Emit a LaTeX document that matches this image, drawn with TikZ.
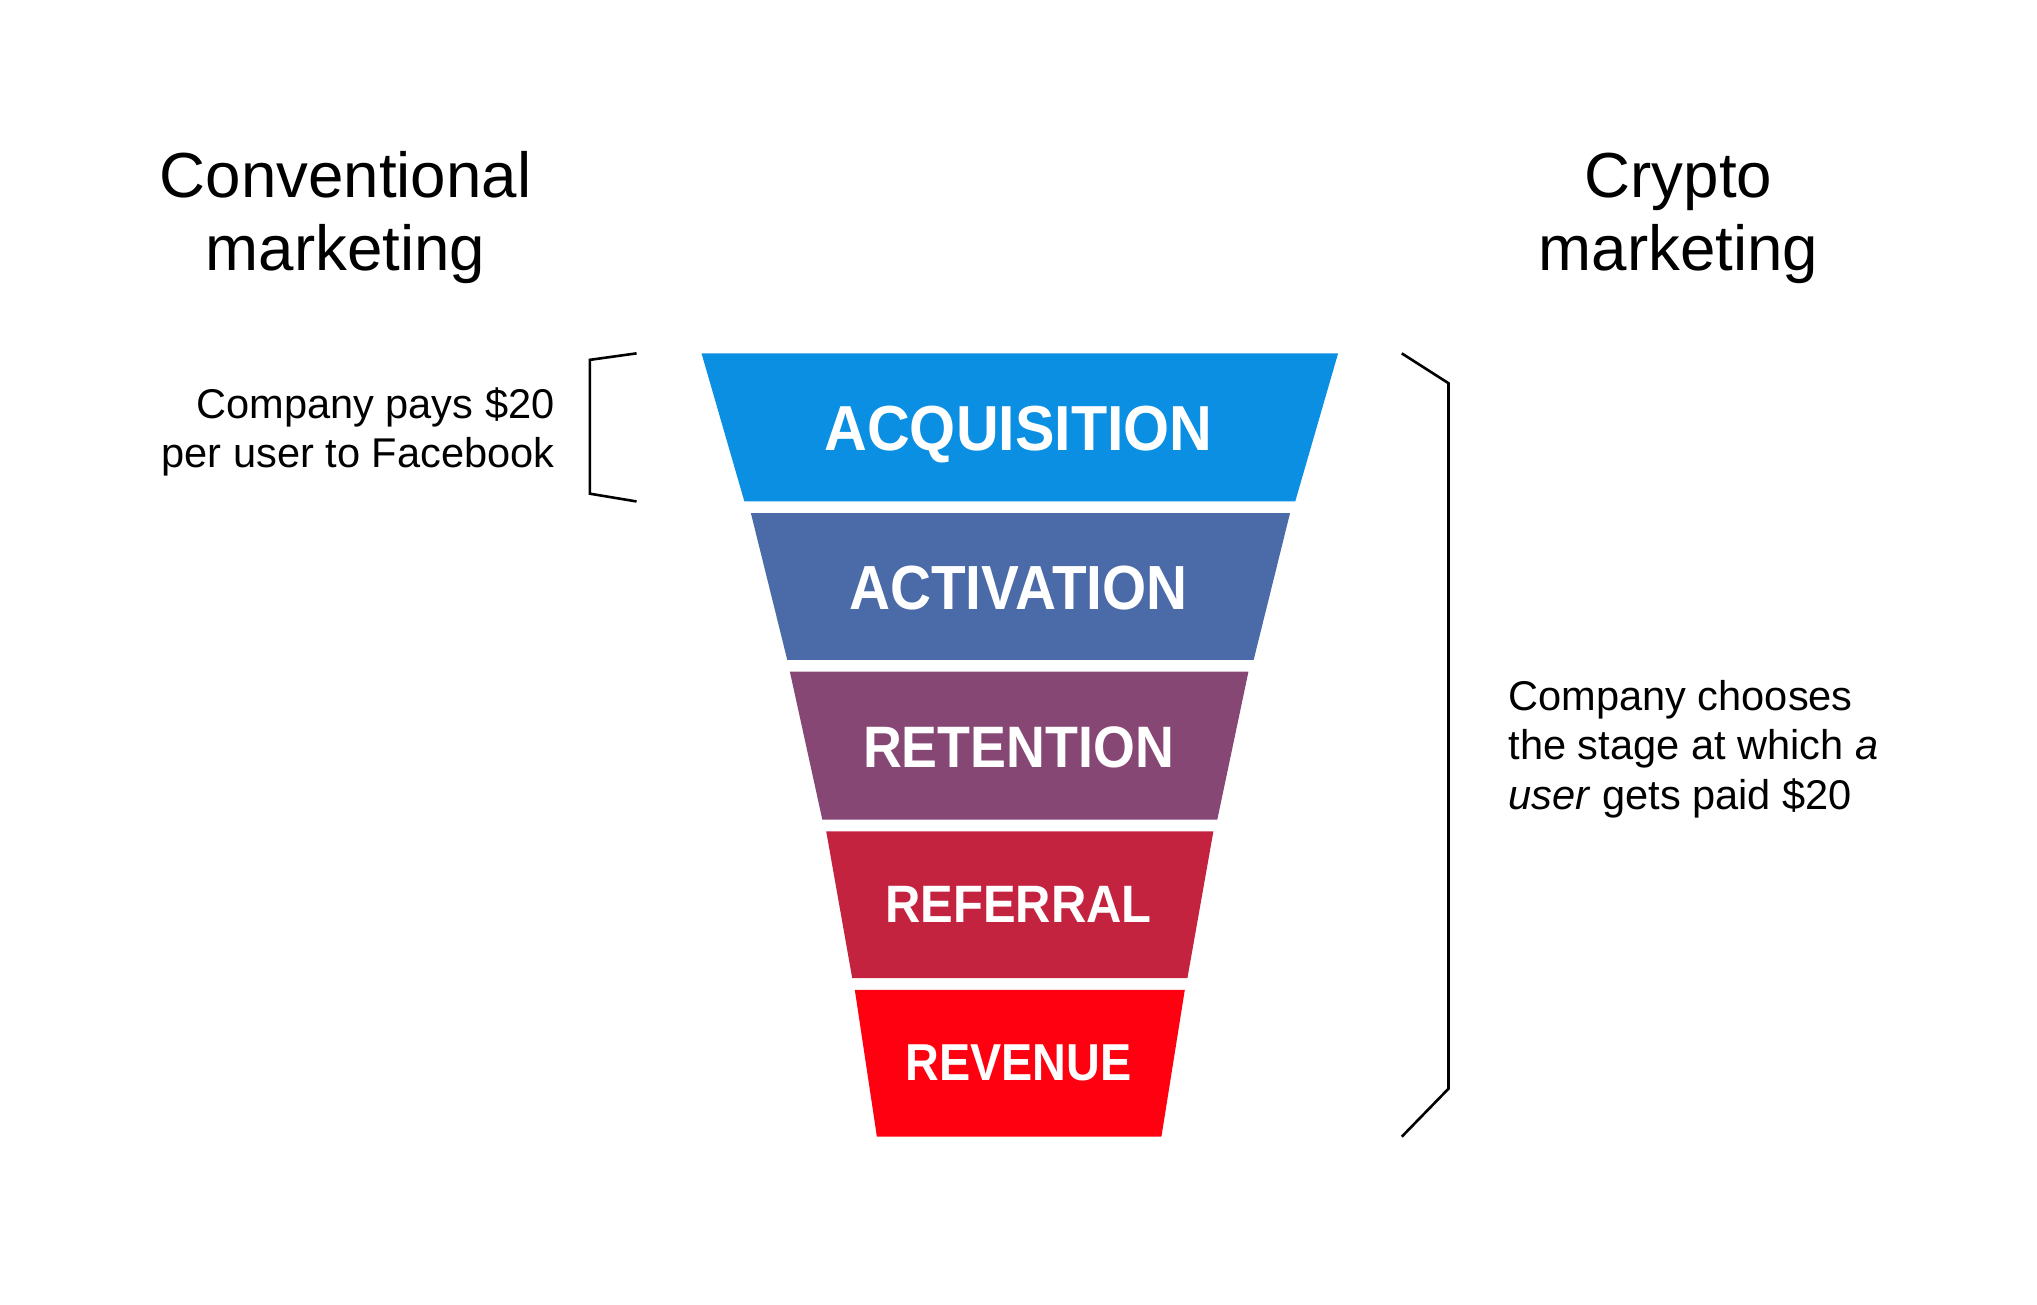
\documentclass[tikz,border=0pt]{standalone}
\usepackage{fontspec}
\setmainfont{Liberation Sans}
\definecolor{cacq}{HTML}{0A8FE3}
\definecolor{cact}{HTML}{4A6AA8}
\definecolor{cret}{HTML}{874774}
\definecolor{cref}{HTML}{C42340}
\definecolor{crev}{HTML}{FF0010}
\begin{document}
\begin{tikzpicture}[x=1pt,y=-1pt,
  stage/.style={text=white,anchor=base,inner sep=0pt},
  title/.style={font=\fontsize{49}{56}\selectfont,align=center,anchor=base,inner sep=0pt},
  note/.style={font=\fontsize{32}{38}\selectfont,inner sep=0pt},
  brk/.style={draw=black,line width=2pt,line join=miter}]
\useasboundingbox (0,0) rectangle (1568,1004);
% funnel bands
\fill[cacq] (540,272) -- (1030,272) -- (997,386) -- (573,386) -- cycle;
\fill[cact] (578,395) -- (993,395) -- (965,508) -- (606,508) -- cycle;
\fill[cret] (608,517) -- (961,517) -- (937,631) -- (633,631) -- cycle;
\fill[cref] (636,640) -- (934,640) -- (914,753) -- (656,753) -- cycle;
\fill[crev] (658,762) -- (912,762) -- (894,875) -- (675,875) -- cycle;
% labels
\node[stage,font=\fontsize{49}{56}\selectfont\bfseries] (acq) at (784,347) {\scalebox{0.93}[1]{ACQUISITION}};
\node[stage,font=\fontsize{48}{56}\selectfont\bfseries] (act) at (784,469) {\scalebox{0.91}[1]{ACTIVATION}};
\node[stage,font=\fontsize{45}{56}\selectfont\bfseries] (ret) at (784,591) {\scalebox{0.92}[1]{RETENTION}};
\node[stage,font=\fontsize{40.5}{56}\selectfont\bfseries] (ref) at (784,710) {\scalebox{0.93}[1]{REFERRAL}};
\node[stage,font=\fontsize{40}{56}\selectfont\bfseries] (rev) at (784,832) {\scalebox{0.9}[1]{REVENUE}};
% titles
\node[title] (conv) at (266,208) {Conventional\\marketing};
\node[title] (cryp) at (1292,208) {Crypto\\marketing};
% notes
\node[note,align=right,anchor=base east] (lnote) at (427,360) {Company pays \$20\\per user to Facebook};
\node[note,align=left,anchor=base west] (rnote) at (1161,623) {Company chooses\\the stage at which \textit{a}\\\textit{user} gets paid \$20};
% brackets
\coordinate (lb1) at (490,272);
\coordinate (lb2) at (490,386);
\coordinate (rb1) at (1079,272);
\coordinate (rb2) at (1079,875);
\draw[brk] (lb1) -- (454,277) -- (454,380) -- (lb2);
\draw[brk] (rb1) -- (1115,295) -- (1115,838) -- (rb2);
\end{tikzpicture}
\end{document}
